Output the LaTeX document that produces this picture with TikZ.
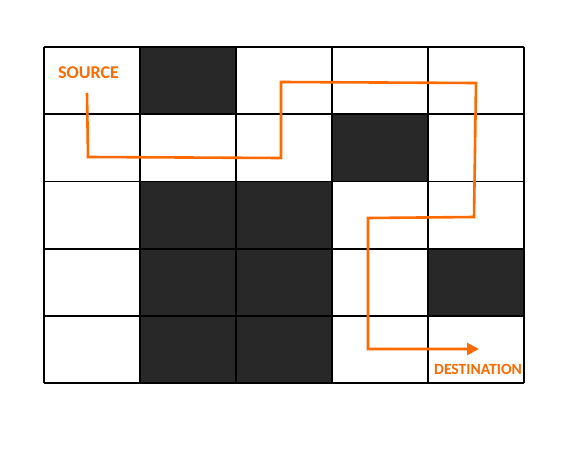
\documentclass[tikz,border=0pt]{standalone}
\usepackage{fontspec}
\setmainfont{Carlito}
\usetikzlibrary{arrows.meta}
\definecolor{gridink}{HTML}{000000}
\definecolor{wallfill}{HTML}{282828}
\definecolor{routeorange}{HTML}{FF6A00}

\begin{document}
\begin{tikzpicture}[
  x=1pt, y=-1pt,
  wall/.style={fill=wallfill, draw=gridink, line width=1.8pt},
  gridline/.style={draw=gridink, line width=1.8pt},
  route/.style={draw=routeorange, line width=2.6pt, -{Triangle[length=12pt,width=12pt]}},
  tag/.style={font=\bfseries\fontsize{18}{21}\selectfont, text=routeorange, inner sep=0pt},
]
\useasboundingbox (0,0) rectangle (581,452);

% ===== blocked cells =====
\foreach \c/\r in {1/0, 3/1, 1/2, 2/2, 1/3, 2/3, 4/3, 1/4, 2/4}
  \fill[wallfill] (44+96*\c,47+67.2*\r) rectangle ++(96,67.2);

% ===== grid =====
\foreach \c in {0,...,5}
  \draw[gridline] (44+96*\c,47) -- (44+96*\c,383);
\foreach \r in {0,...,5}
  \draw[gridline] (44,47+67.2*\r) -- (524,47+67.2*\r);

% ===== labels =====
\node[tag, anchor=west] (src) at (58,73) {SOURCE};
\node[tag, anchor=east, font=\bfseries\fontsize{15.6}{18}\selectfont] (dst) at (522,369) {DESTINATION};

% ===== route waypoints =====
\coordinate (w0) at (87,93);
\coordinate (w1) at (88,157);
\coordinate (w2) at (281,158);
\coordinate (w3) at (281,82);
\coordinate (w4) at (476,83);
\coordinate (w5) at (474,217);
\coordinate (w6) at (368,218);
\coordinate (w7) at (368,349);
\coordinate (w8) at (479,349);

\draw[route] (w0) -- (w1) -- (w2) -- (w3) -- (w4) -- (w5) -- (w6) -- (w7) -- (w8);

\end{tikzpicture}
\end{document}
